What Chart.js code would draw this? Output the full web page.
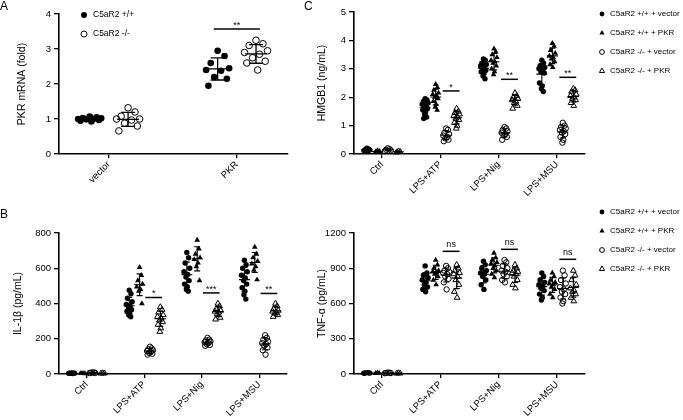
<!DOCTYPE html>
<html>
<head>
<meta charset="utf-8">
<script src="https://cdn.jsdelivr.net/npm/chart.js@4.4.1/dist/chart.umd.min.js"></script>
<style>
  body { margin: 0; background: #fff; }
  #wrap { position: relative; width: 683px; height: 420px; font-family: Arial, "Liberation Sans", sans-serif; }
  canvas { position: absolute; }
  .lbl { position: absolute; font-size: 12px; line-height: 12px; color: #000; }
</style>
</head>
<body>
<div id="wrap">
  <canvas id="cA" width="300" height="200" style="left:0;top:0"></canvas>
  <canvas id="cC" width="383" height="200" style="left:300px;top:0"></canvas>
  <canvas id="cB" width="300" height="220" style="left:0;top:200px"></canvas>
  <canvas id="cD" width="383" height="220" style="left:300px;top:200px"></canvas>
  <div class="lbl" style="left:0;top:0">A</div>
  <div class="lbl" style="left:304px;top:0">C</div>
  <div class="lbl" style="left:0;top:208px">B</div>
</div>
<script>
// ---- data ----
const catsA = ['vector', 'PKR'];
const catsStim = ['Ctrl', 'LPS+ATP', 'LPS+Nig', 'LPS+MSU'];

const legendA = ['C5aR2 +/+', 'C5aR2 -/-'];
const legendStim = ['C5aR2 +/+ + vector', 'C5aR2 +/+ + PKR', 'C5aR2 -/- + vector', 'C5aR2 -/- + PKR'];

// A: PKR mRNA (fold)
const pkrWT = [
  [1.07, 1.05, 1.03, 1.02, 1.0, 1.0, 0.99, 0.97, 0.95, 0.93],
  [2.95, 2.8, 2.6, 2.45, 2.4, 2.38, 2.2, 2.15, 1.95]
];
const pkrKO = [
  [1.32, 1.2, 1.08, 1.0, 1.0, 0.97, 0.88, 0.8, 0.66],
  [3.25, 3.15, 3.1, 2.95, 2.9, 2.85, 2.75, 2.65, 2.6, 2.4]
];

// C: HMGB1 (ng/mL)
const hmgbWtVec = [
  [0.2, 0.18, 0.15, 0.14, 0.12, 0.1],
  [1.95, 1.9, 1.85, 1.8, 1.75, 1.7, 1.65, 1.6, 1.55, 1.5, 1.4, 1.3, 1.25],
  [3.35, 3.3, 3.2, 3.15, 3.1, 3.05, 3.0, 2.95, 2.9, 2.85, 2.75, 2.65],
  [3.3, 3.2, 3.1, 3.05, 3.0, 2.95, 2.9, 2.85, 2.5, 2.4, 2.3, 2.2]
];
const hmgbWtPkr = [
  [0.12, 0.1, 0.08, 0.06],
  [2.45, 2.35, 2.25, 2.15, 2.1, 2.05, 2.0, 1.95, 1.85, 1.75, 1.65, 1.55],
  [3.7, 3.6, 3.5, 3.4, 3.3, 3.25, 3.2, 3.1, 3.0, 2.9, 2.8],
  [3.9, 3.8, 3.65, 3.55, 3.45, 3.4, 3.35, 3.25, 3.15, 3.05]
];
const hmgbKoVec = [
  [0.2, 0.17, 0.15, 0.13, 0.1],
  [0.9, 0.85, 0.75, 0.7, 0.65, 0.6, 0.55, 0.5, 0.45],
  [0.95, 0.9, 0.85, 0.8, 0.75, 0.7, 0.65, 0.6, 0.5],
  [1.1, 1.0, 0.95, 0.9, 0.85, 0.8, 0.75, 0.7, 0.6, 0.5, 0.4]
];
const hmgbKoPkr = [
  [0.1, 0.08, 0.06],
  [1.6, 1.5, 1.45, 1.4, 1.35, 1.3, 1.25, 1.2, 1.1, 1.0, 0.9],
  [2.15, 2.05, 2.0, 1.95, 1.9, 1.85, 1.8, 1.7, 1.6],
  [2.3, 2.25, 2.2, 2.1, 2.05, 2.0, 1.95, 1.9, 1.8, 1.7]
];

// B: IL-1β (pg/mL)
const il1WtVec = [
  [6, 5, 5, 4, 4, 3],
  [475, 455, 430, 410, 395, 385, 375, 365, 355, 345, 335, 325],
  [690, 660, 630, 600, 580, 565, 550, 530, 510, 495, 480, 470],
  [645, 620, 600, 580, 560, 545, 530, 510, 490, 470, 450, 425]
];
const il1WtPkr = [
  [4, 3, 3, 2],
  [605, 560, 530, 510, 495, 480, 470, 400],
  [760, 710, 680, 660, 650, 630, 610, 530],
  [720, 680, 660, 640, 625, 610, 590, 535]
];
const il1KoVec = [
  [9, 8, 7, 6, 5],
  [155, 145, 140, 135, 130, 125, 120, 115, 110],
  [205, 195, 190, 185, 180, 175, 170, 165, 160],
  [220, 205, 195, 185, 175, 170, 160, 150, 135, 110]
];
const il1KoPkr = [
  [5, 4, 3],
  [380, 365, 350, 335, 325, 315, 305, 295, 280, 260, 240],
  [400, 385, 370, 360, 355, 350, 340, 320, 310],
  [400, 385, 370, 360, 355, 350, 345, 335, 325]
];

// D: TNF-α (pg/mL)
const tnfWtVec = [
  [12, 10, 9, 8, 7],
  [920, 860, 840, 820, 800, 780, 760, 740, 720, 700],
  [960, 930, 900, 880, 860, 850, 830, 800, 760, 720],
  [860, 830, 800, 780, 760, 750, 730, 710, 680, 650, 630]
];
const tnfWtPkr = [
  [10, 8, 6],
  [970, 930, 900, 880, 870, 860, 850, 830, 800, 760],
  [1030, 990, 970, 950, 940, 920, 900, 880, 850, 820],
  [860, 830, 800, 780, 770, 760, 740, 720, 680, 650]
];
const tnfKoVec = [
  [12, 10, 9, 8, 7],
  [920, 900, 880, 870, 860, 850, 830, 810, 780, 720],
  [970, 950, 920, 900, 880, 870, 850, 830, 800, 780],
  [880, 840, 800, 770, 740, 720, 700, 680, 650, 620, 600]
];
const tnfKoPkr = [
  [8, 6, 5],
  [930, 900, 880, 860, 850, 830, 800, 760, 700, 650],
  [930, 900, 880, 870, 860, 850, 830, 800, 760, 730],
  [880, 840, 800, 760, 730, 710, 700, 680, 650, 620]
];

// significance bars: [category number, level, label]
const sigA = [[2, 3.57, '**']];
const sigC = [[2, 2.22, '*'], [3, 2.63, '**'], [4, 2.7, '**']];
const sigB = [[2, 434, '*'], [3, 460, '***'], [4, 457, '**']];
const sigD = [[2, 1044, 'ns'], [3, 1061, 'ns'], [4, 976, 'ns']];

// ---- drawing ----
const FONT = 'Arial, "Liberation Sans", sans-serif';
Chart.defaults.font.family = FONT;
Chart.defaults.color = '#000';

// horizontal spread pattern for the dots (beeswarm-ish look)
const JITTER = [0, 0.6, -0.6, 1, -1, 0.3, -0.3, 0.8, -0.8, 0.15, -0.15, 0.5, -0.5];

const DOT = { shape: 'circle', fill: true };
const TRI = { shape: 'triangle', fill: true };
const RING = { shape: 'circle', fill: false };
const OTRI = { shape: 'triangle', fill: false };

const errorBars = {
  id: 'errorBars',
  afterDatasetsDraw(chart, args, opts) {
    const ctx = chart.ctx, xs = chart.scales.x, ys = chart.scales.y;
    ctx.save();
    ctx.strokeStyle = '#000';
    ctx.lineWidth = opts.lineWidth;
    chart.data.datasets.forEach(ds => {
      ds.groups.forEach((grp, c) => {
        const n = grp.length;
        const m = grp.reduce((a, b) => a + b, 0) / n;
        const sd = Math.sqrt(grp.reduce((a, b) => a + (b - m) * (b - m), 0) / (n - 1));
        const px = xs.getPixelForValue(c + 1 + ds.offset);
        const pm = ys.getPixelForValue(m);
        const pt = ys.getPixelForValue(m + sd);
        const pb = ys.getPixelForValue(Math.max(m - sd, 0));
        ctx.beginPath();
        ctx.moveTo(px - opts.meanHalf, pm); ctx.lineTo(px + opts.meanHalf, pm);
        ctx.moveTo(px, pt); ctx.lineTo(px, pb);
        ctx.moveTo(px - opts.capHalf, pt); ctx.lineTo(px + opts.capHalf, pt);
        ctx.moveTo(px - opts.capHalf, pb); ctx.lineTo(px + opts.capHalf, pb);
        ctx.stroke();
      });
    });
    ctx.restore();
  }
};

const sigBars = {
  id: 'sigBars',
  afterDraw(chart, args, opts) {
    const ctx = chart.ctx, xs = chart.scales.x, ys = chart.scales.y;
    ctx.save();
    ctx.strokeStyle = '#000';
    ctx.fillStyle = '#000';
    ctx.lineWidth = 1.5;
    ctx.font = '9px ' + FONT;
    ctx.textAlign = 'center';
    ctx.textBaseline = 'bottom';
    opts.bars.forEach(([cat, level, label]) => {
      const x1 = xs.getPixelForValue(cat + opts.from);
      const x2 = xs.getPixelForValue(cat + opts.to);
      const y = ys.getPixelForValue(level);
      ctx.beginPath();
      ctx.moveTo(x1, y); ctx.lineTo(x2, y);
      ctx.stroke();
      ctx.fillText(label, (x1 + x2) / 2, label === 'ns' ? y - 2 : y + 1);
    });
    ctx.restore();
  }
};

const dotLegend = {
  id: 'dotLegend',
  afterDraw(chart, args, opts) {
    if (!opts.show) return;
    const ctx = chart.ctx;
    ctx.save();
    ctx.font = opts.size + 'px ' + FONT;
    ctx.textBaseline = 'middle';
    ctx.textAlign = 'left';
    chart.data.datasets.forEach((ds, i) => {
      const y = opts.y + i * opts.gap;
      ctx.fillStyle = ds.backgroundColor;
      ctx.strokeStyle = '#000';
      ctx.lineWidth = 1;
      Chart.helpers.drawPoint(ctx, {
        pointStyle: ds.pointStyle, radius: ds.pointRadius - 0.3, rotation: 0,
        borderWidth: ds.borderWidth
      }, opts.x, y);
      ctx.fillStyle = '#000';
      ctx.fillText(ds.label, opts.textX, y);
    });
    ctx.restore();
  }
};

function makePanel(id, p) {
  const datasets = p.series.map((vals, s) => {
    const st = p.shapes[s];
    const pts = [];
    vals.forEach((grp, c) => {
      grp.forEach((v, k) => {
        pts.push({ x: c + 1 + p.offsets[s] + JITTER[k % JITTER.length] * p.jitter, y: v });
      });
    });
    return {
      label: p.legend[s],
      data: pts,
      groups: vals,
      offset: p.offsets[s],
      pointStyle: st.shape,
      pointRadius: st.shape === 'triangle' ? p.radius + 0.6 : p.radius,
      backgroundColor: st.fill ? '#000' : 'rgba(0,0,0,0)',
      borderColor: '#000',
      borderWidth: st.fill ? 0 : 1,
      showLine: false,
      clip: false
    };
  });

  new Chart(document.getElementById(id), {
    type: 'scatter',
    data: { datasets },
    plugins: [errorBars, sigBars, dotLegend],
    options: {
      responsive: false,
      animation: false,
      layout: { padding: { top: p.padTop, right: p.padRight, left: 0, bottom: 0 } },
      plugins: {
        legend: { display: false },
        tooltip: { enabled: false },
        errorBars: { meanHalf: p.meanHalf, capHalf: p.capHalf, lineWidth: p.lineWidth },
        sigBars: { bars: p.sig, from: p.sigFrom, to: p.sigTo },
        dotLegend: p.legendPos
      },
      scales: {
        x: {
          type: 'linear',
          min: p.xMin,
          max: p.xMax,
          afterBuildTicks: s => { s.ticks = p.cats.map((c, i) => ({ value: i + 1 })); },
          afterFit: s => { s.height = p.xHeight; },
          ticks: {
            autoSkip: false,
            minRotation: 45,
            maxRotation: 45,
            padding: 1,
            font: { size: 9.5 },
            callback: v => p.cats[Math.round(v) - 1]
          },
          grid: { drawOnChartArea: false, drawTicks: true, tickLength: 4, color: '#000', lineWidth: 1.3 },
          border: { display: true, color: '#000', width: 1.6 }
        },
        y: {
          min: 0,
          max: p.yMax,
          afterFit: s => { s.width = p.yWidth; },
          ticks: { stepSize: p.yStep, padding: 3, font: { size: 9.5 }, callback: v => String(v) },
          grid: { drawOnChartArea: false, drawTicks: true, tickLength: 5, color: '#000', lineWidth: 1.3 },
          border: { display: true, color: '#000', width: 1.6 },
          title: { display: true, text: p.yTitle, font: { size: 10.5 }, padding: { top: p.titlePad, bottom: 0 } }
        }
      }
    }
  });
}

const stimOffsets = [-0.26, -0.08, 0.1, 0.28];
const stimShapes = [DOT, TRI, RING, OTRI];

makePanel('cA', {
  cats: catsA, legend: legendA, series: [pkrWT, pkrKO], shapes: [DOT, RING],
  offsets: [-0.15, 0.15], jitter: 0.09, radius: 3.3,
  meanHalf: 11, capHalf: 7, lineWidth: 1.3,
  sig: sigA, sigFrom: -0.18, sigTo: 0.18,
  xMin: 0.61, xMax: 2.4, yMax: 4, yStep: 1,
  yWidth: 59, xHeight: 46, padTop: 14, padRight: 12, titlePad: 16,
  yTitle: 'PKR mRNA (fold)',
  legendPos: { show: true, x: 84, y: 15, gap: 19, textX: 93, size: 8.5 }
});

makePanel('cC', {
  cats: catsStim, legend: legendStim, series: [hmgbWtVec, hmgbWtPkr, hmgbKoVec, hmgbKoPkr], shapes: stimShapes,
  offsets: stimOffsets, jitter: 0.05, radius: 2.7,
  meanHalf: 5.5, capHalf: 3, lineWidth: 1.1,
  sig: sigC, sigFrom: 0.04, sigTo: 0.33,
  xMin: 0.52, xMax: 4.48, yMax: 5, yStep: 1,
  yWidth: 54, xHeight: 46, padTop: 12, padRight: 98, titlePad: 16,
  yTitle: 'HMGB1 (ng/mL)',
  legendPos: { show: true, x: 302, y: 14, gap: 19, textX: 310, size: 8 }
});

makePanel('cB', {
  cats: catsStim, legend: legendStim, series: [il1WtVec, il1WtPkr, il1KoVec, il1KoPkr], shapes: stimShapes,
  offsets: stimOffsets, jitter: 0.05, radius: 2.7,
  meanHalf: 5.5, capHalf: 3, lineWidth: 1.1,
  sig: sigB, sigFrom: 0.02, sigTo: 0.31,
  xMin: 0.52, xMax: 4.48, yMax: 800, yStep: 200,
  yWidth: 59, xHeight: 46, padTop: 33, padRight: 13, titlePad: 12,
  yTitle: 'IL-1β (pg/mL)',
  legendPos: { show: false }
});

makePanel('cD', {
  cats: catsStim, legend: legendStim, series: [tnfWtVec, tnfWtPkr, tnfKoVec, tnfKoPkr], shapes: stimShapes,
  offsets: stimOffsets, jitter: 0.05, radius: 2.7,
  meanHalf: 5.5, capHalf: 3, lineWidth: 1.1,
  sig: sigD, sigFrom: 0.04, sigTo: 0.33,
  xMin: 0.52, xMax: 4.48, yMax: 1200, yStep: 300,
  yWidth: 54, xHeight: 46, padTop: 33, padRight: 98, titlePad: 16,
  yTitle: 'TNF-α (pg/mL)',
  legendPos: { show: true, x: 302, y: 12, gap: 19, textX: 310, size: 8 }
});
</script>
</body>
</html>
